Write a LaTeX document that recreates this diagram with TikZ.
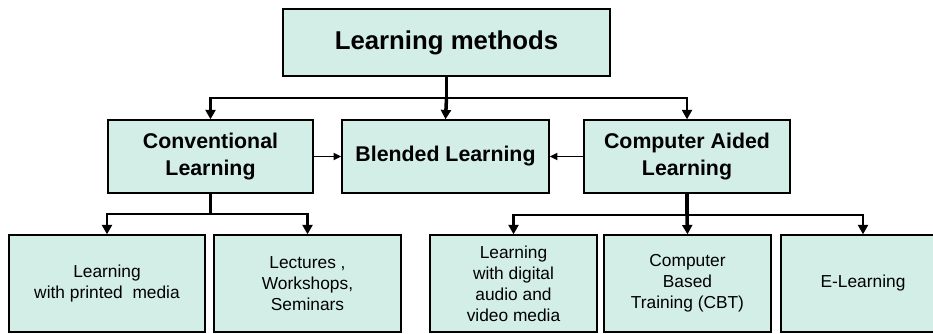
\documentclass[tikz,border=0pt]{standalone}
\usepackage{fontspec}
\setmainfont{Liberation Sans}
\usepackage{tikz}
\usetikzlibrary{arrows.meta, positioning, calc}
\definecolor{boxfill}{RGB}{211,238,231}

\begin{document}
\begin{tikzpicture}[
    x=0.03cm, y=-0.03cm,
    % Node styles
    box/.style={rectangle, draw, fill=boxfill, line width=1pt, align=center, inner sep=2pt},
    headbox/.style={box, line width=1.8pt, minimum width=327*0.03cm, minimum height=67*0.03cm, font=\fontsize{22}{26}\selectfont\bfseries},
    groupbox/.style={box, line width=1.2pt, minimum height=73*0.03cm, font=\fontsize{18.2}{23}\selectfont\bfseries},
    leafbox/.style={box, line width=1.2pt, minimum height=97*0.03cm, font=\fontsize{14.8}{17.9}\selectfont},
    arrow/.style={-{Triangle[length=8pt, width=8.5pt]}, line width=1.8pt},
    sidearrow/.style={-{Triangle[length=6.5pt, width=6pt]}, line width=1.4pt},
]
\useasboundingbox (0,0) rectangle (933,333);
\clip (0,0) rectangle (933,333);

% ============================================================================
% TOP: ROOT
% ============================================================================
\node[headbox] (methods) at (446.5, 42.5) {Learning methods};

% ============================================================================
% MIDDLE ROW
% ============================================================================
\node[groupbox, minimum width=205*0.03cm] (conv) at (210.5, 156.5) {Conventional\\Learning};
\node[groupbox, minimum width=207*0.03cm] (blend) at (445.5, 156.5) {Blended Learning};
\node[groupbox, minimum width=206*0.03cm] (cal) at (687, 156.5) {Computer Aided\\Learning};

% Arrows from root
\draw[line width=3pt] (methods.south) -- ++(0, 21) coordinate (topbus);
\draw[arrow] (topbus) -| (conv.north);
\draw[arrow] (topbus) -| (cal.north);
\draw[arrow, line width=3pt] (topbus) -- (blend.north);

% Side arrows into blended learning
\draw[sidearrow] (conv.east) -- (blend.west);
\draw[sidearrow] (cal.west) -- (blend.east);

% ============================================================================
% BOTTOM ROW
% ============================================================================
\node[leafbox, minimum width=196*0.03cm] (printed) at (107, 283.5) {Learning\\with printed\ \ media};
\node[leafbox, minimum width=187*0.03cm] (lectures) at (307.5, 283.5) {Lectures ,\\Workshops,\\Seminars};
\node[leafbox, minimum width=167*0.03cm] (digital) at (513.5, 283.5) {Learning\\with digital\\audio and\\video media};
\node[leafbox, minimum width=167*0.03cm] (cbt) at (687.5, 283.5) {Computer\\Based\\Training (CBT)};
\node[leafbox, minimum width=164*0.03cm] (elearn) at (863, 283.5) {E-Learning};

% Arrows from conventional learning
\draw[line width=3pt] (conv.south) -- ++(0, 20) coordinate (convbus);
\draw[arrow] (convbus) -| (printed.north);
\draw[arrow] (convbus) -| (lectures.north);

% Arrows from computer aided learning
\draw[line width=3pt] (cal.south) -- ++(0, 21) coordinate (calbus);
\draw[arrow] (calbus) -| (digital.north);
\draw[arrow] (calbus) -| (elearn.north);
\draw[arrow, line width=3pt] (calbus) -- (cbt.north);

\end{tikzpicture}
\end{document}
